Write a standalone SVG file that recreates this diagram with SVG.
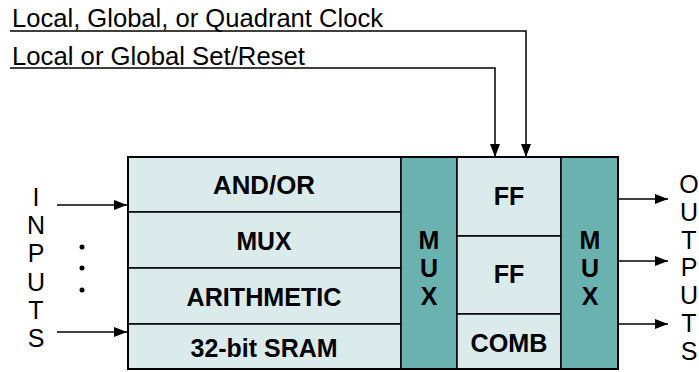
<svg xmlns="http://www.w3.org/2000/svg" width="699" height="372" viewBox="0 0 699 372">
<style>
.lt{fill:#DBEBEB;stroke:#000;stroke-width:1.5}
.mx{fill:#6AB2B0;stroke:#000;stroke-width:1.5}
.b{font-family:"Liberation Sans",Arial,sans-serif;font-weight:bold;font-size:25px;text-anchor:middle;fill:#000}
.r{font-family:"Liberation Sans",Arial,sans-serif;font-size:25px;fill:#000}
.c{text-anchor:middle}
.ln{fill:none;stroke:#000;stroke-width:1.5}
</style>
<defs>
<marker id="ah" viewBox="0 0 13 10" refX="13" refY="5" markerWidth="13" markerHeight="10" markerUnits="userSpaceOnUse" orient="auto">
<path d="M0,0 L13,5 L0,10 Z" fill="#000"/>
</marker>
</defs>
<g id="labels">
<text class="r" x="12" y="27" textLength="371" lengthAdjust="spacingAndGlyphs">Local, Global, or Quadrant Clock</text>
<text class="r" x="12" y="65" textLength="293" lengthAdjust="spacingAndGlyphs">Local or Global Set/Reset</text>
</g>
<g id="inputs">
<text class="r c" x="36" y="206">I</text>
<text class="r c" x="36" y="234">N</text>
<text class="r c" x="36" y="262">P</text>
<text class="r c" x="36" y="291">U</text>
<text class="r c" x="36" y="319">T</text>
<text class="r c" x="36" y="347">S</text>
<circle cx="82" cy="247" r="2.5" fill="#000"/>
<circle cx="82" cy="268" r="2.5" fill="#000"/>
<circle cx="82" cy="290" r="2.5" fill="#000"/>
</g>
<g id="outputs">
<text class="r c" x="689" y="193">O</text>
<text class="r c" x="689" y="221">U</text>
<text class="r c" x="689" y="249">T</text>
<text class="r c" x="689" y="276">P</text>
<text class="r c" x="689" y="304">U</text>
<text class="r c" x="689" y="332">T</text>
<text class="r c" x="689" y="360">S</text>
</g>
<g id="andor"><rect class="lt" x="128" y="157" width="273" height="55"/><text class="b" x="264" y="194" textLength="102" lengthAdjust="spacingAndGlyphs">AND/OR</text></g>
<g id="mux"><rect class="lt" x="128" y="212" width="273" height="56"/><text class="b" x="264" y="250" textLength="55" lengthAdjust="spacingAndGlyphs">MUX</text></g>
<g id="arith"><rect class="lt" x="128" y="268" width="273" height="56"/><text class="b" x="264" y="306" textLength="155" lengthAdjust="spacingAndGlyphs">ARITHMETIC</text></g>
<g id="sram"><rect class="lt" x="128" y="324" width="273" height="45"/><text class="b" x="264" y="357" textLength="147" lengthAdjust="spacingAndGlyphs">32-bit SRAM</text></g>
<g id="mux1"><rect class="mx" x="401" y="157" width="56" height="212"/>
<text class="b" x="429" y="249">M</text><text class="b" x="429" y="277">U</text><text class="b" x="429" y="305">X</text></g>
<g id="ff1"><rect class="lt" x="457" y="157" width="104" height="79"/><text class="b" x="509" y="205">FF</text></g>
<g id="ff2"><rect class="lt" x="457" y="236" width="104" height="78"/><text class="b" x="509" y="283">FF</text></g>
<g id="comb"><rect class="lt" x="457" y="314" width="104" height="55"/><text class="b" x="509" y="352" textLength="77" lengthAdjust="spacingAndGlyphs">COMB</text></g>
<g id="mux2"><rect class="mx" x="561" y="157" width="57" height="212"/>
<text class="b" x="590" y="249">M</text><text class="b" x="590" y="277">U</text><text class="b" x="590" y="305">X</text></g>
<rect x="128" y="157" width="490" height="212" fill="none" stroke="#000" stroke-width="2"/>
<g id="connectors">
<path class="ln" d="M10,31 H526 V157" marker-end="url(#ah)"/>
<path class="ln" d="M10,68 H495 V157" marker-end="url(#ah)" stroke="#444" stroke-width="2"/>
<path class="ln" d="M57,205 H127" marker-end="url(#ah)"/>
<path class="ln" d="M57,332 H127" marker-end="url(#ah)"/>
<path class="ln" d="M618,199 H668" marker-end="url(#ah)"/>
<path class="ln" d="M618,261 H668" marker-end="url(#ah)"/>
<path class="ln" d="M618,324 H668" marker-end="url(#ah)"/>
</g>
</svg>
